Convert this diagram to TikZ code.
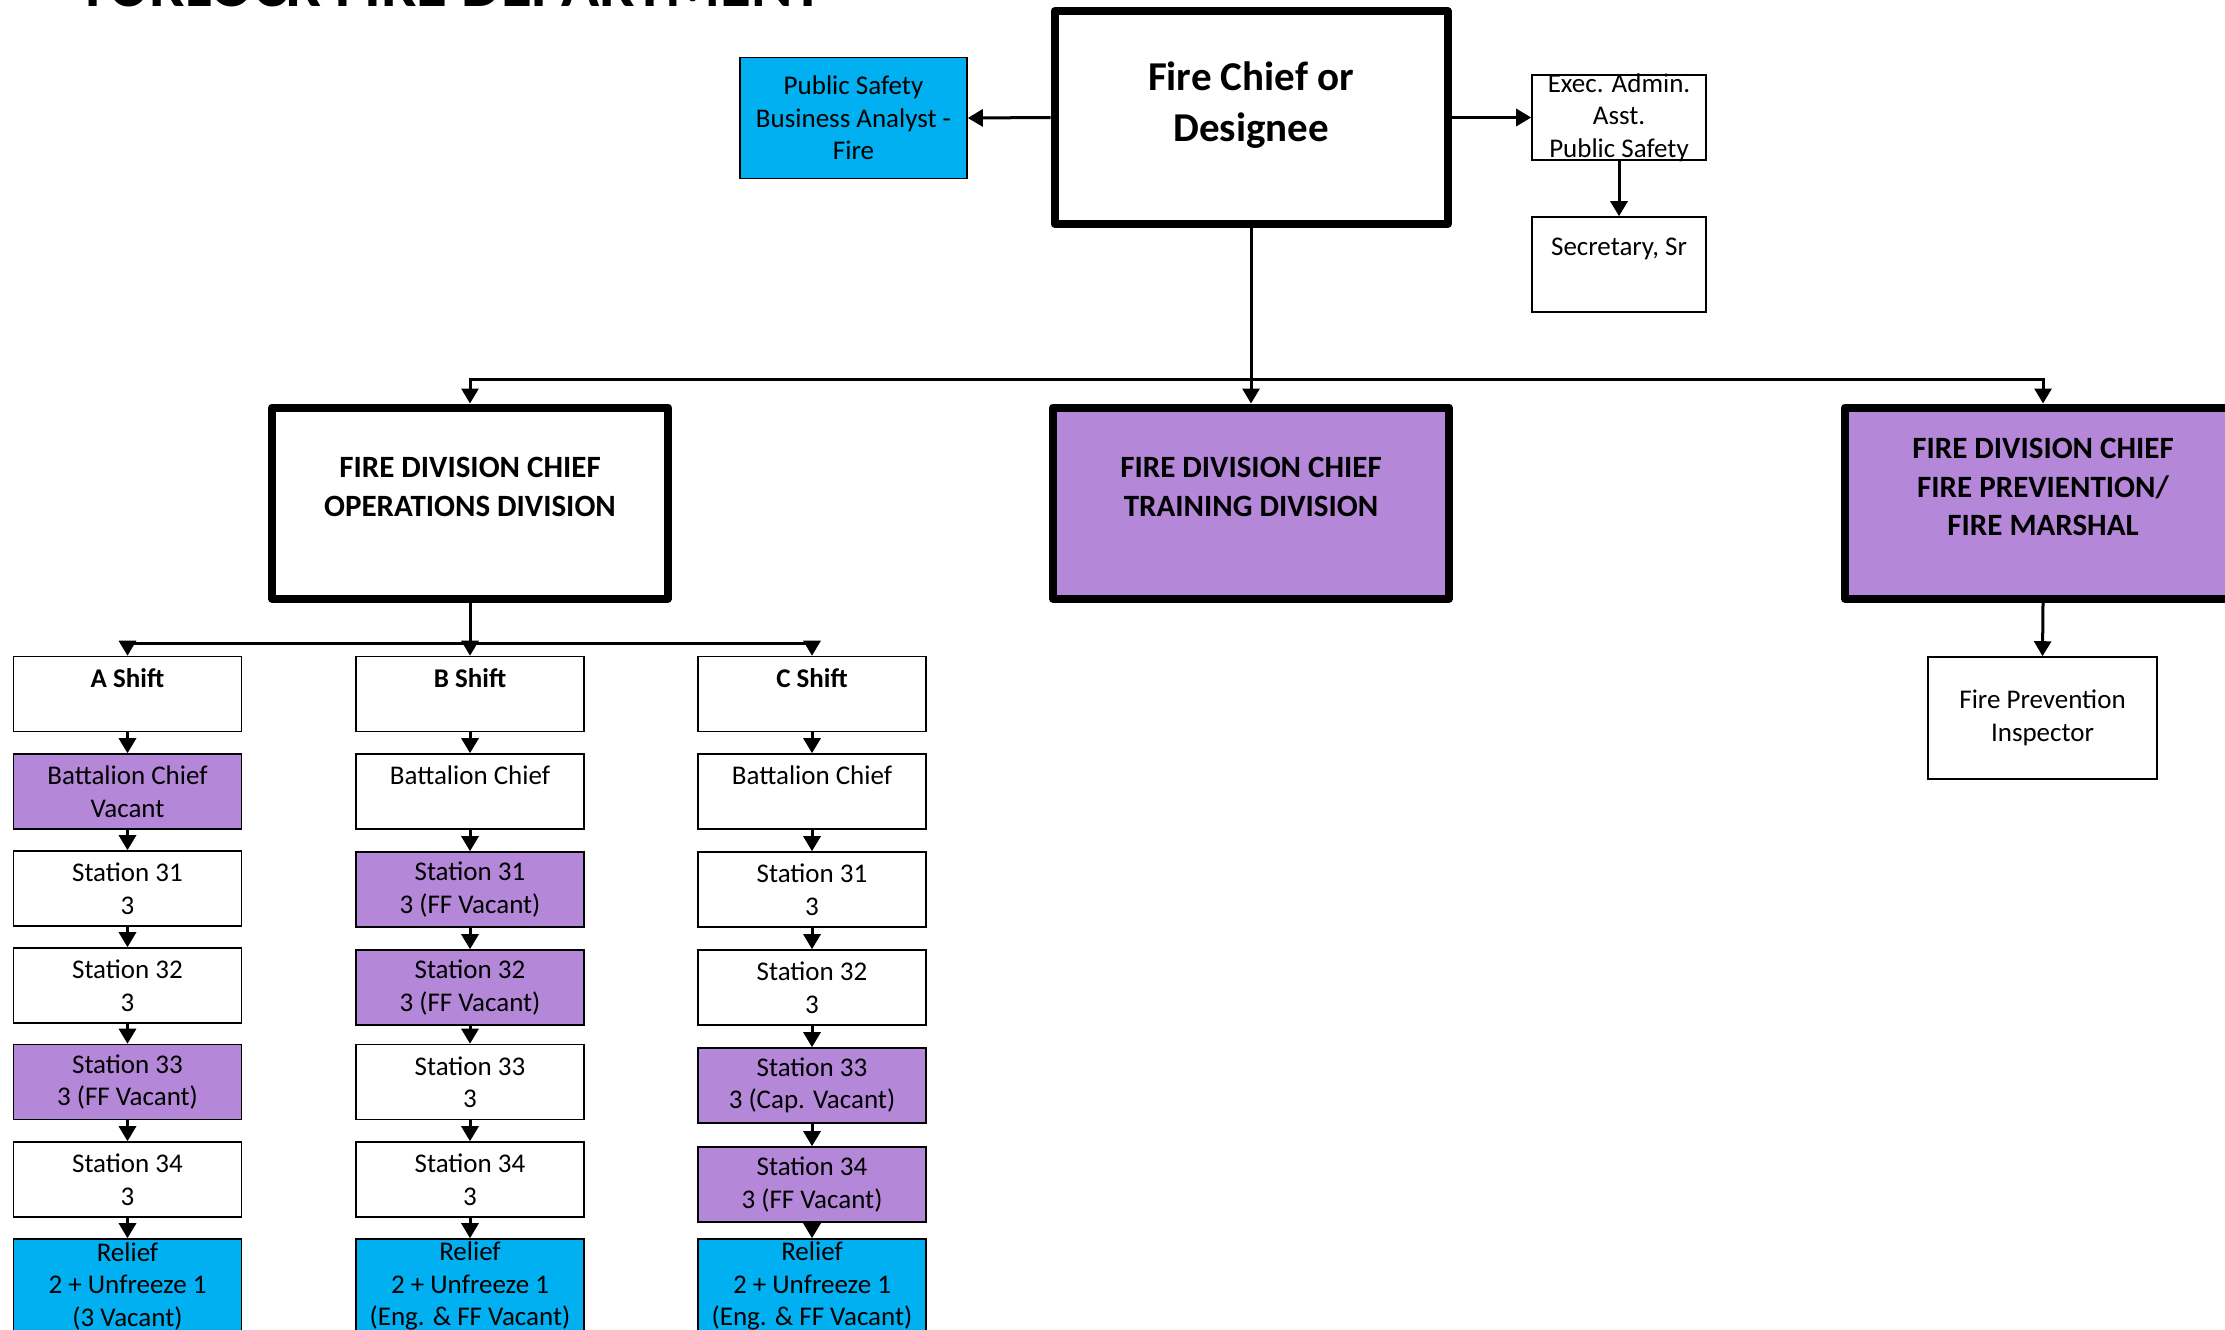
\documentclass[tikz,border=0pt]{standalone}
\usepackage{fontspec}
\setmainfont{Carlito}
\usetikzlibrary{arrows.meta}
\definecolor{vacant}{HTML}{B487D8}
\definecolor{relief}{HTML}{00B0F0}

\tikzset{
  every node/.style={inner sep=0pt, align=center},
  body/.style={font=\fontsize{13.5}{16.25}\selectfont},
  cell/.style={body, draw, line width=0.8pt, fill=white, minimum width=114pt, minimum height=37.5pt},
  vac/.style={fill=vacant},
  rel/.style={fill=relief, minimum height=47pt},
  shifthead/.style={font=\bfseries\fontsize{13.5}{16.25}\selectfont},
  head/.style={draw, line width=4pt, line join=round, fill=white, minimum width=198pt, minimum height=95.5pt,
    font=\bfseries\fontsize{15.5}{19.25}\selectfont},
  conn/.style={line width=1.5pt, -{Triangle[length=7.5pt,width=8.5pt]}},
}

\begin{document}
\begin{tikzpicture}[x=0.5pt,y=-0.5pt]
\useasboundingbox (0,0) rectangle (2225,1329);
\clip (0,0) rectangle (2225,1329);

% heading, mostly above the page edge
\node[anchor=base west, font=\bfseries\fontsize{31.5}{34}\selectfont] (title) at (77,6) {TURLOCK FIRE DEPARTMENT};

% top level
\node[draw, line width=4pt, line join=round, fill=white, minimum width=196.5pt, minimum height=106.5pt] (chief) at (1251,117.5) {};
\node[font=\bfseries\fontsize{20.5}{25.5}\selectfont] (chief-t) at ([yshift=6.25pt]chief.center) {Fire Chief or\\Designee};

\node[cell, fill=relief, minimum width=113.5pt, minimum height=60.5pt] (analyst) at (853.5,118) {Public Safety\\Business Analyst -\\Fire};

\node[cell, minimum width=87pt, minimum height=42.5pt] (exec) at (1619,117.5) {};
\node[body] (exec-t) at (exec.center) {Exec. Admin.\\Asst.\\Public Safety};
\node[cell, minimum width=87pt, minimum height=47.5pt] (sec) at (1619,264.5) {Secretary, Sr\\[2pt]\mbox{}};

% division chiefs
\node[head] (ops) at (470,503) {FIRE DIVISION CHIEF\\OPERATIONS DIVISION\\[-3pt]\mbox{}};
\node[head, fill=vacant] (training) at (1251,503) {FIRE DIVISION CHIEF\\TRAINING DIVISION\\[-3pt]\mbox{}};
\node[head, fill=vacant] (prev) at (2043,503) {FIRE DIVISION CHIEF\\FIRE PREVIENTION/\\FIRE MARSHAL\\[-3.25pt]\mbox{}};

\node[cell, minimum width=114.5pt, minimum height=61pt] (insp) at (2042.5,718) {Fire Prevention\\Inspector};

% A shift
\node[cell, shifthead] (a-shift) at (127.5,694) {A Shift\\\mbox{}};
\node[cell, vac] (a-bc) at (127.5,791.5) {Battalion Chief\\Vacant};
\node[cell] (a-31) at (127.5,888.5) {Station 31\\3};
\node[cell] (a-32) at (127.5,985.5) {Station 32\\3};
\node[cell, vac] (a-33) at (127.5,1082) {Station 33\\3 (FF Vacant)};
\node[cell] (a-34) at (127.5,1179.5) {Station 34\\3};
\node[cell, rel] (a-rel) at (127.5,1286) {Relief\\2 + Unfreeze 1\\(3 Vacant)};

% B shift
\node[cell, shifthead] (b-shift) at (470,694) {B Shift\\\mbox{}};
\node[cell] (b-bc) at (470,791.5) {Battalion Chief\\\mbox{}};
\node[cell, vac] (b-31) at (470,889.5) {Station 31\\3 (FF Vacant)};
\node[cell, vac] (b-32) at (470,987.5) {Station 32\\3 (FF Vacant)};
\node[cell] (b-33) at (470,1082) {Station 33\\3};
\node[cell] (b-34) at (470,1179.5) {Station 34\\3};
\node[cell, rel] (b-rel) at (470,1286) {Relief\\2 + Unfreeze 1\\(Eng. \& FF Vacant)};

% C shift
\node[cell, shifthead] (c-shift) at (812,694) {C Shift\\\mbox{}};
\node[cell] (c-bc) at (812,791.5) {Battalion Chief\\\mbox{}};
\node[cell] (c-31) at (812,889.5) {Station 31\\3};
\node[cell] (c-32) at (812,987.5) {Station 32\\3};
\node[cell, vac] (c-33) at (812,1085.5) {Station 33\\3 (Cap. Vacant)};
\node[cell, vac] (c-34) at (812,1184.5) {Station 34\\3 (FF Vacant)};
\node[cell, rel] (c-rel) at (812,1286) {Relief\\2 + Unfreeze 1\\(Eng. \& FF Vacant)};

% connectors from the chief
\draw[conn] (chief.west) -- (analyst.east);
\draw[conn] (chief.east) -- (exec.west);
\draw[conn] (exec.south) -- (sec.north);
\coordinate (bus) at (1251,379);
\draw[conn] (chief.south) -- (training.north);
\draw[conn] (bus) -| (ops.north);
\draw[conn] (bus) -| (prev.north);
\draw[conn] (prev.south) -- (insp.north);

% operations to the three shifts
\coordinate (opsbus) at (470,643);
\draw[conn] (ops.south) -- (b-shift.north);
\draw[conn] (opsbus) -| (a-shift.north);
\draw[conn] (opsbus) -| (c-shift.north);

% chains within each shift
\foreach \c in {a,b,c}{
  \foreach \u/\v in {shift/bc,bc/31,31/32,32/33,33/34,34/rel}{
    \draw[conn] (\c-\u.south) -- (\c-\v.north);
  }
}
\end{tikzpicture}
\end{document}
